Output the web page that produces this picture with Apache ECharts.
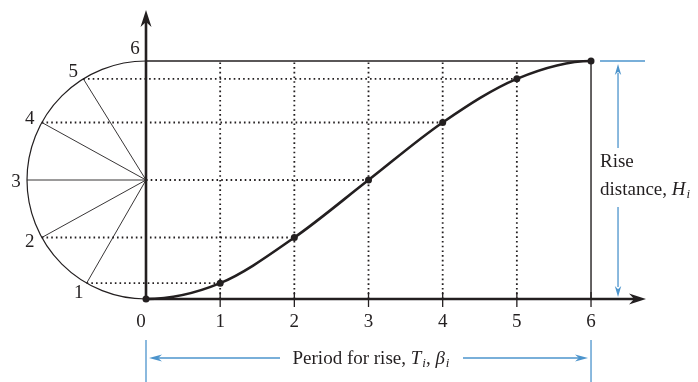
<!DOCTYPE html>
<html><head><meta charset="utf-8">
<script src="https://cdn.jsdelivr.net/npm/echarts@6/dist/echarts.min.js"></script>
<style>html,body{margin:0;padding:0;background:#fff}#c{width:698px;height:382px}</style>
</head><body><div id="c"></div>
<script>
// ---- data ----
const stepX = [0, 1, 2, 3, 4, 5, 6];
const riseY = [0, 0.40, 1.55, 3.0, 4.45, 5.55, 6];
const tickLabels = ['0', '1', '2', '3', '4', '5', '6'];
const circleLabels = ['1', '2', '3', '4', '5', '6'];
const riseText = ['Rise', 'distance, '];
const riseSymbol = ['H', 'i'];
const periodText = 'Period for rise, ';
const periodSymbols = [['T', 'i'], ['β', 'i']];

// ---- style / layout constants ----
const INK = '#231f20', BLUE = '#4c94cc', FONT = 'Liberation Serif';
const X_MIN = -146 / 74.17, X_MAX = (698 - 146) / 74.17;
const Y_PX = 238 / 6;
const Y_MIN = -83 / Y_PX, Y_MAX = 6 + 61 / Y_PX;
const labelOffsets = [[-8, 10], [-12, 4], [-11, 2], [-12, -3], [-10, -7], [-11, -12]];

const chart = echarts.init(document.getElementById('c'));

function txt(x, y, text, extra) {
  return {type: 'text', x: x, y: y, style: Object.assign({
    text: text, fill: INK, fontFamily: FONT, fontSize: 19,
    align: 'center', verticalAlign: 'middle'}, extra || {})};
}

function arrowHead(tip, dir, len, half, color) {
  const [dx, dy] = dir, nx = -dy, ny = dx;
  const bx = tip[0] - dx * len, by = tip[1] - dy * len;
  const mx = tip[0] - dx * len * 0.7, my = tip[1] - dy * len * 0.7;
  return {type: 'polygon', shape: {points: [
    tip, [bx + nx * half, by + ny * half], [mx, my], [bx - nx * half, by - ny * half]]},
    style: {fill: color, stroke: null}};
}

// smooth displacement curve through the data points (horizontal tangents at dwell ends)
function renderCurve(params, api) {
  const n = stepX.length;
  const slope = stepX.map((x, i) => (i === 0 || i === n - 1) ? 0 :
    (riseY[i + 1] - riseY[i - 1]) / (stepX[i + 1] - stepX[i - 1]));
  const p0 = api.coord([stepX[0], riseY[0]]);
  let d = 'M' + p0[0] + ' ' + p0[1];
  for (let i = 0; i < n - 1; i++) {
    const h = (stepX[i + 1] - stepX[i]) / 3;
    const c1 = api.coord([stepX[i] + h, riseY[i] + slope[i] * h]);
    const c2 = api.coord([stepX[i + 1] - h, riseY[i + 1] - slope[i + 1] * h]);
    const e = api.coord([stepX[i + 1], riseY[i + 1]]);
    d += ' C' + c1[0] + ' ' + c1[1] + ' ' + c2[0] + ' ' + c2[1] + ' ' + e[0] + ' ' + e[1];
  }
  return {type: 'path', shape: {pathData: d},
    style: {stroke: INK, fill: null, lineWidth: 2.6}};
}

function renderDecor(params, api) {
  const c = (x, y) => api.coord([x, y]);
  const last = stepX.length - 1;
  const o = c(0, 0);
  const ctr = c(0, riseY[last] / 2);
  const r = o[1] - ctr[1];
  const ch = [];
  const line = (p1, p2, style) => ch.push({type: 'line',
    shape: {x1: p1[0], y1: p1[1], x2: p2[0], y2: p2[1]},
    style: Object.assign({stroke: INK, lineWidth: 1.2}, style || {})});
  const dotted = {lineWidth: 1.8, lineDash: [1.6, 3.1], stroke: INK};
  const top = c(stepX[last], riseY[last]);

  for (let i = 1; i < last; i++) line(c(stepX[i], 0), c(stepX[i], riseY[last]), dotted);
  ch.push({type: 'arc', shape: {cx: ctr[0], cy: ctr[1], r: r,
    startAngle: Math.PI / 2, endAngle: Math.PI * 1.5, clockwise: true},
    style: {stroke: INK, fill: null, lineWidth: 1.2}});
  const circPts = [];
  for (let i = 1; i <= last; i++) {
    const p = c(stepX[i], riseY[i]);
    const dy = p[1] - ctr[1];
    const cx = ctr[0] - Math.sqrt(Math.max(0, r * r - dy * dy));
    circPts.push([cx, p[1]]);
    if (i < last) {
      line([cx, p[1]], ctr, {lineWidth: 0.9});
      line(Math.abs(dy) < 1 ? ctr : [cx, p[1]], p, dotted);
    }
  }
  line(c(0, riseY[last]), top, {lineWidth: 1.4});
  line(c(stepX[last], 0), top, {lineWidth: 1.4});
  const xEnd = [646, o[1]], yEnd = [o[0], 10];
  line(o, [xEnd[0] - 10, o[1]], {lineWidth: 2.6});
  line(o, [o[0], yEnd[1] + 10], {lineWidth: 2.6});
  ch.push(arrowHead(xEnd, [1, 0], 17, 5.5, INK));
  ch.push(arrowHead(yEnd, [0, -1], 17, 5.5, INK));
  for (let i = 0; i <= last; i++) {
    const p = c(stepX[i], 0);
    if (i > 0) line([p[0], p[1] - 7], [p[0], p[1] + 8], {lineWidth: 1.3});
    ch.push(txt(p[0] - (i === 0 ? 5 : 0), p[1] + 23, tickLabels[i]));
  }
  for (let k = 0; k < circleLabels.length; k++) {
    const q = circPts[k];
    ch.push(txt(q[0] + labelOffsets[k][0], q[1] + labelOffsets[k][1], circleLabels[k]));
  }
  const ax = top[0] + 27;
  line([top[0] + 9, top[1]], [top[0] + 54, top[1]], {stroke: BLUE, lineWidth: 1.3});
  line([ax, top[1] + 12], [ax, 148], {stroke: BLUE, lineWidth: 1.3});
  ch.push(arrowHead([ax, top[1] + 3], [0, -1], 11, 3.2, BLUE));
  line([ax, 207], [ax, o[1] - 12], {stroke: BLUE, lineWidth: 1.3});
  ch.push(arrowHead([ax, o[1] - 2], [0, 1], 11, 3.2, BLUE));
  ch.push(txt(top[0] + 9, 162, riseText[0], {align: 'left'}));
  ch.push(txt(top[0] + 9, 190, '{n|' + riseText[1] + '}{it|' + riseSymbol[0] + '}{sub|' + riseSymbol[1] + '}', {
    align: 'left',
    rich: {
      n: {fontFamily: FONT, fontSize: 19, fill: INK},
      it: {fontFamily: FONT, fontSize: 19, fontStyle: 'italic', fill: INK},
      sub: {fontFamily: FONT, fontSize: 13, fontStyle: 'italic', fill: INK, padding: [10, 0, 0, 1]}
    }}));
  const by = 358;
  line([o[0], 340], [o[0], 382], {stroke: BLUE, lineWidth: 1.3});
  line([top[0], 340], [top[0], 382], {stroke: BLUE, lineWidth: 1.3});
  line([o[0] + 10, by], [280, by], {stroke: BLUE, lineWidth: 1.3});
  ch.push(arrowHead([o[0] + 3, by], [-1, 0], 13, 3.6, BLUE));
  line([463, by], [top[0] - 10, by], {stroke: BLUE, lineWidth: 1.3});
  ch.push(arrowHead([top[0] - 3, by], [1, 0], 13, 3.6, BLUE));
  ch.push(txt(371, by + 1, '{n|' + periodText + '}{it|' + periodSymbols[0][0] + '}{sub|' + periodSymbols[0][1] +
    '}{n|, }{it|' + periodSymbols[1][0] + '}{sub|' + periodSymbols[1][1] + '}', {
    rich: {
      n: {fontFamily: FONT, fontSize: 19, fill: INK},
      it: {fontFamily: FONT, fontSize: 19, fontStyle: 'italic', fill: INK},
      sub: {fontFamily: FONT, fontSize: 13, fontStyle: 'italic', fill: INK, padding: [10, 0, 0, 1]}
    }}));
  return {type: 'group', children: ch};
}

chart.setOption({
  animation: false,
  grid: {left: 0, right: 0, top: 0, bottom: 0},
  xAxis: {type: 'value', min: X_MIN, max: X_MAX, show: false},
  yAxis: {type: 'value', min: Y_MIN, max: Y_MAX, show: false},
  series: [
    {type: 'custom', silent: true, z: 1, clip: false, renderItem: renderDecor, data: [[0, 0]]},
    {type: 'custom', silent: true, z: 4, clip: false, renderItem: renderCurve, data: [[0, 0]]},
    {type: 'line', z: 5, silent: true,
      data: stepX.map((x, i) => [x, riseY[i]]),
      symbol: 'circle', symbolSize: 7, showSymbol: true,
      itemStyle: {color: INK},
      lineStyle: {width: 0, opacity: 0}}
  ]
});
</script>
</body></html>
